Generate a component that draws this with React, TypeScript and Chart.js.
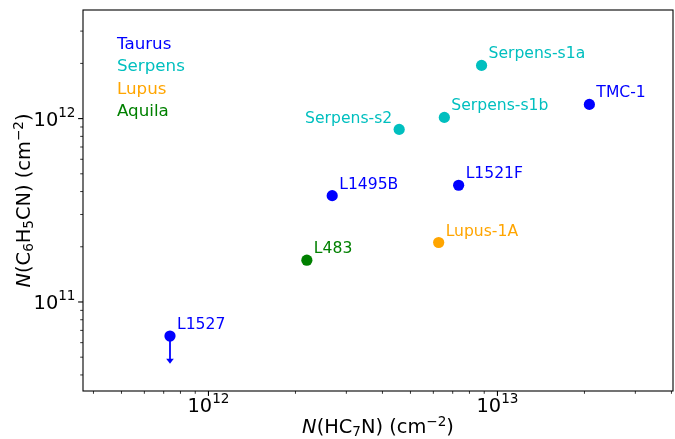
import React, { useEffect, useRef } from "react";
import { Chart, registerables } from "chart.js";

Chart.register(...registerables);

// ---------------- data ----------------
const sources = ["L1527", "L1495B", "L1521F", "TMC-1", "Serpens-s2", "Serpens-s1b", "Serpens-s1a", "Lupus-1A", "L483"];
const sourceRegion = ["Taurus", "Taurus", "Taurus", "Taurus", "Serpens", "Serpens", "Serpens", "Lupus", "Aquila"];
const nHC7N = [7.36e11, 2.68e12, 7.34e12, 2.08e13, 4.57e12, 6.55e12, 8.81e12, 6.26e12, 2.19e12];
const nC6H5CN = [6.52e10, 3.8e11, 4.33e11, 1.195e12, 8.73e11, 1.015e12, 1.95e12, 2.11e11, 1.69e11];
const upperLimitTo = [4.6e10, null, null, null, null, null, null, null, null];
const labelSide = ["right", "right", "right", "right", "left", "right", "right", "right", "right"];

const regions = ["Taurus", "Serpens", "Lupus", "Aquila"];
const regionColors = ["#0000ff", "#00bfbf", "#ffa500", "#008000"];

const xMin = 3.68e11;
const xMax = 4.05e13;
const yMin = 3.27e10;
const yMax = 3.91e12;
const xTickExps = [12, 13];
const yTickExps = [11, 12];

// ---------------- helpers ----------------
const FONT = '"DejaVu Sans", sans-serif';
const fontStr = (size: number, italic = false) => `${italic ? "italic " : ""}${size}px ${FONT}`;

type Run = { t: string; k?: "i" | "sub" | "sup" };

function drawRuns(
  ctx: CanvasRenderingContext2D,
  runs: Run[],
  x: number,
  y: number,
  size: number,
  align: "left" | "center" | "right",
  color: string,
  supRaise = 0.36,
  subDrop = 0.16
) {
  const parts = runs.map((r) => {
    const small = r.k === "sub" || r.k === "sup";
    const s = small ? size * 0.7 : size;
    const f = fontStr(s, r.k === "i");
    ctx.font = f;
    const w = ctx.measureText(r.t).width;
    const dy = r.k === "sub" ? size * subDrop : r.k === "sup" ? -size * supRaise : 0;
    return { t: r.t, f, w, dy };
  });
  const total = parts.reduce((a, p) => a + p.w, 0);
  let cx = align === "center" ? x - total / 2 : align === "right" ? x - total : x;
  ctx.fillStyle = color;
  ctx.textAlign = "left";
  ctx.textBaseline = "alphabetic";
  for (const p of parts) {
    ctx.font = p.f;
    ctx.fillText(p.t, cx, y + p.dy);
    cx += p.w;
  }
}

const colorOf = (region: string) => regionColors[regions.indexOf(region)];

const decorPlugin = {
  id: "decor",
  beforeDatasetsDraw(chart: any) {
    const ctx: CanvasRenderingContext2D = chart.ctx;
    const xs = chart.scales.x;
    const ys = chart.scales.y;
    ctx.save();
    upperLimitTo.forEach((lim, i) => {
      if (lim == null) return;
      const px = xs.getPixelForValue(nHC7N[i]);
      const py0 = ys.getPixelForValue(nC6H5CN[i]);
      const py1 = ys.getPixelForValue(lim);
      const c = colorOf(sourceRegion[i]);
      ctx.strokeStyle = c;
      ctx.fillStyle = c;
      ctx.lineWidth = 1.8;
      ctx.beginPath();
      ctx.moveTo(px, py0);
      ctx.lineTo(px, py1 - 2);
      ctx.stroke();
      ctx.beginPath();
      ctx.moveTo(px, py1);
      ctx.lineTo(px - 3.8, py1 - 5);
      ctx.lineTo(px + 3.8, py1 - 5);
      ctx.closePath();
      ctx.fill();
    });
    ctx.restore();
  },
  afterDatasetsDraw(chart: any) {
    const ctx: CanvasRenderingContext2D = chart.ctx;
    const xs = chart.scales.x;
    const ys = chart.scales.y;
    const area = chart.chartArea;
    ctx.save();
    // point labels
    sources.forEach((name, i) => {
      const px = xs.getPixelForValue(nHC7N[i]);
      const py = ys.getPixelForValue(nC6H5CN[i]);
      const c = colorOf(sourceRegion[i]);
      ctx.font = fontStr(15.6);
      ctx.fillStyle = c;
      ctx.textBaseline = "alphabetic";
      if (labelSide[i] === "left") {
        ctx.textAlign = "right";
        ctx.fillText(name, px - 7, py - 6.5);
      } else {
        ctx.textAlign = "left";
        ctx.fillText(name, px + 7, py - 7);
      }
    });
    // region legend text
    regions.forEach((r, j) => {
      ctx.font = fontStr(16.7);
      ctx.fillStyle = regionColors[j];
      ctx.textAlign = "left";
      ctx.textBaseline = "alphabetic";
      ctx.fillText(r, area.left + 34, area.top + 38.5 + j * 22.6);
    });
    ctx.restore();
  },
  afterDraw(chart: any) {
    const ctx: CanvasRenderingContext2D = chart.ctx;
    const xs = chart.scales.x;
    const ys = chart.scales.y;
    const { left, right, top, bottom } = chart.chartArea;
    ctx.save();
    // frame
    ctx.strokeStyle = "#000";
    ctx.lineWidth = 1.1;
    ctx.strokeRect(left, top, right - left, bottom - top);

    // ticks
    const drawTicks = (axis: "x" | "y") => {
      const min = axis === "x" ? xMin : yMin;
      const max = axis === "x" ? xMax : yMax;
      const sc = axis === "x" ? xs : ys;
      for (let e = Math.floor(Math.log10(min)); e <= Math.ceil(Math.log10(max)); e++) {
        for (let m = 1; m <= 9; m++) {
          const v = m * Math.pow(10, e);
          if (v < min || v > max) continue;
          const major = m === 1;
          const len = major ? 4.9 : 2.8;
          ctx.lineWidth = major ? 1.1 : 0.8;
          const p = sc.getPixelForValue(v);
          ctx.beginPath();
          if (axis === "x") {
            ctx.moveTo(p, bottom);
            ctx.lineTo(p, bottom + len);
          } else {
            ctx.moveTo(left, p);
            ctx.lineTo(left - len, p);
          }
          ctx.stroke();
        }
      }
    };
    drawTicks("x");
    drawTicks("y");

    // tick labels
    xTickExps.forEach((e) => {
      const p = xs.getPixelForValue(Math.pow(10, e));
      drawRuns(ctx, [{ t: "10" }, { t: String(e), k: "sup" }], p, bottom + 21, 19.4, "center", "#000", 0.45);
    });
    yTickExps.forEach((e) => {
      const p = ys.getPixelForValue(Math.pow(10, e));
      drawRuns(ctx, [{ t: "10" }, { t: String(e), k: "sup" }], left - 7.5, p + 7, 19.4, "right", "#000", 0.45);
    });

    // axis titles
    drawRuns(
      ctx,
      [{ t: "N", k: "i" }, { t: "(HC" }, { t: "7", k: "sub" }, { t: "N) (cm" }, { t: "\u22122", k: "sup" }, { t: ")" }],
      (left + right) / 2,
      433,
      19.4,
      "center",
      "#000"
    );
    ctx.translate(30, (top + bottom) / 2);
    ctx.rotate(-Math.PI / 2);
    drawRuns(
      ctx,
      [
        { t: "N", k: "i" },
        { t: "(C" },
        { t: "6", k: "sub" },
        { t: "H" },
        { t: "5", k: "sub" },
        { t: "CN) (cm" },
        { t: "\u22122", k: "sup" },
        { t: ")" },
      ],
      0,
      0,
      19.4,
      "center",
      "#000"
    );
    ctx.restore();
  },
};

export default function App() {
  const ref = useRef<HTMLCanvasElement | null>(null);

  useEffect(() => {
    if (!ref.current) return;
    const pts = sources.map((_, i) => ({ x: nHC7N[i], y: nC6H5CN[i] }));
    const cols = sourceRegion.map((r) => colorOf(r));
    const chart = new Chart(ref.current, {
      type: "scatter",
      data: {
        datasets: [
          {
            data: pts,
            pointRadius: 5.6,
            pointHoverRadius: 5.6,
            pointBorderWidth: 0,
            pointBackgroundColor: cols,
            pointBorderColor: cols,
          },
        ],
      },
      options: {
        animation: false,
        responsive: false,
        devicePixelRatio: 1,
        layout: { autoPadding: false, padding: { left: 83, top: 10, right: 2, bottom: 48 } },
        plugins: { legend: { display: false }, tooltip: { enabled: false } },
        scales: {
          x: { type: "logarithmic", min: xMin, max: xMax, display: false },
          y: { type: "logarithmic", min: yMin, max: yMax, display: false },
        },
      },
      plugins: [decorPlugin],
    });
    return () => chart.destroy();
  }, []);

  return (
    <div style={{ position: "fixed", left: 0, top: 0, width: 675, height: 439, background: "#fff" }}>
      <canvas ref={ref} width={675} height={439} style={{ display: "block" }} />
    </div>
  );
}
